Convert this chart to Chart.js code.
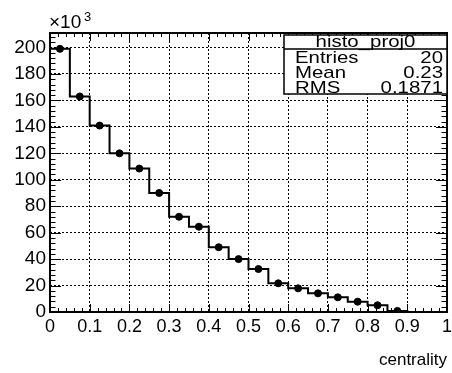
<!DOCTYPE html>
<html>
<head>
<meta charset="utf-8">
<script src="https://cdn.jsdelivr.net/npm/chart.js@4/dist/chart.umd.min.js"></script>
<style>
  html, body { margin: 0; padding: 0; background: #fff; }
  #wrap { width: 452px; height: 373px; }
</style>
</head>
<body>
<div id="wrap"><canvas id="chart-centrality" width="452" height="373"></canvas></div>
<script>
// bin low edges of histo_proj0 (width 0.05)
const bin_low = [0, 0.05, 0.1, 0.15, 0.2, 0.25, 0.3, 0.35, 0.4, 0.45,
  0.5, 0.55, 0.6, 0.65, 0.7, 0.75, 0.8, 0.85, 0.9, 0.95];
const bin_width = 0.05;

// bin contents, in units of 10^3
const bin_counts = [199, 163, 141, 120, 108.5, 90, 72, 64.5, 49, 40,
  32.5, 21.7, 17.9, 14.1, 11.1, 7.8, 5.1, 0.8, 0, 0];

// stats box
const stats_title = 'histo_proj0';
const stats_names = ['Entries', 'Mean', 'RMS'];
const stats_values = ['20', '0.23', '0.1871'];

const x_title = 'centrality';

const FONT = '"Liberation Sans", Arial, sans-serif';

// histogram outline: one point per bin edge, stepped
const step_points = bin_low.map((lo, i) => ({ x: lo, y: bin_counts[i] }));
step_points.push({ x: bin_low[bin_low.length - 1] + bin_width, y: bin_counts[bin_counts.length - 1] });

// markers at bin centres (empty bins not drawn)
const marker_points = bin_low
  .map((lo, i) => ({ x: lo + bin_width / 2, y: bin_counts[i] }))
  .filter(p => p.y > 0);

// ROOT-like frame, inner ticks, stats box and exponent label
const rootFrame = {
  id: 'rootFrame',
  afterDraw(chart) {
    const ctx = chart.ctx;
    const area = chart.chartArea;
    const xs = chart.scales.x;
    const ys = chart.scales.y;

    ctx.save();
    ctx.strokeStyle = '#000';

    // ticks (inside, on all four sides)
    ctx.lineWidth = 1;
    function drawTicks(scale, horizontal, majLen, minLen) {
      const vals = scale.ticks.map(t => t.value);
      const step = vals[1] - vals[0];
      const minor = step / 5;
      for (let k = 0; ; k++) {
        const v = scale.min + k * minor;
        if (v > scale.max + 1e-9) break;
        const isMajor = k % 5 === 0;
        const len = isMajor ? majLen : minLen;
        const p = Math.round(scale.getPixelForValue(v)) + 0.5;
        ctx.beginPath();
        if (horizontal) {
          ctx.moveTo(p, area.bottom); ctx.lineTo(p, area.bottom - len);
          ctx.moveTo(p, area.top); ctx.lineTo(p, area.top + len);
        } else {
          ctx.moveTo(area.left, p); ctx.lineTo(area.left + len, p);
          ctx.moveTo(area.right, p); ctx.lineTo(area.right - len, p);
        }
        ctx.stroke();
      }
    }
    drawTicks(xs, true, 8, 4);
    drawTicks(ys, false, 11, 5.5);

    // frame
    ctx.lineWidth = 2;
    ctx.strokeRect(area.left, area.top, area.right - area.left, area.bottom - area.top);

    // exponent label
    ctx.fillStyle = '#000';
    ctx.textBaseline = 'alphabetic';
    ctx.textAlign = 'left';
    ctx.font = '19px ' + FONT;
    ctx.fillText('\u00d710', 49, 28);
    ctx.font = '13px ' + FONT;
    ctx.fillText('3', 84, 21);

    // stats box
    const bx0 = 284, bx1 = 447, by0 = 35, by1 = 94, bsep = 49;
    ctx.fillStyle = '#fff';
    ctx.fillRect(bx0, by0, bx1 - bx0, by1 - by0);
    ctx.lineWidth = 1.5;
    ctx.strokeRect(bx0, by0, bx1 - bx0, by1 - by0);
    ctx.beginPath();
    ctx.moveTo(bx0, bsep); ctx.lineTo(bx1, bsep);
    ctx.stroke();

    ctx.fillStyle = '#000';
    ctx.font = '17px ' + FONT;
    function stretchedText(txt, x, y, align) {
      ctx.save();
      ctx.translate(x, y);
      ctx.scale(1.2, 1);
      ctx.textAlign = align;
      ctx.fillText(txt, 0, 0);
      ctx.restore();
    }
    stretchedText(stats_title, (bx0 + bx1) / 2, 47, 'center');
    const rows_y = [63, 78, 93];
    stats_names.forEach((name, i) => {
      stretchedText(name, 295, rows_y[i], 'left');
      stretchedText(stats_values[i], 443, rows_y[i], 'right');
    });

    ctx.restore();
  }
};

const ctx = document.getElementById('chart-centrality');
const chart = new Chart(ctx, {
  plugins: [rootFrame],
  type: 'line',
  data: {
    datasets: [
      {
        label: 'histogram',
        data: step_points,
        stepped: 'before',
        borderColor: '#000',
        borderWidth: 2,
        pointRadius: 0,
        fill: false
      },
      {
        label: 'bin contents',
        type: 'scatter',
        data: marker_points,
        backgroundColor: '#000',
        borderColor: '#000',
        pointRadius: 3.5,
        showLine: false
      }
    ]
  },
  options: {
    responsive: false,
    animation: false,
    layout: {
      padding: { top: 33, right: 2, left: 0, bottom: 0 }
    },
    plugins: {
      legend: { display: false },
      tooltip: { enabled: false }
    },
    scales: {
      x: {
        type: 'linear',
        min: 0,
        max: 1,
        afterFit: function (scale) {
          scale.height = 61;
          scale.paddingLeft = 0;
          scale.paddingRight = 0;
        },
        ticks: {
          stepSize: 0.1,
          autoSkip: false,
          maxRotation: 0,
          includeBounds: false,
          color: '#000',
          padding: 4,
          font: { family: FONT, size: 18 },
          callback: function (value) {
            return String(parseFloat(value.toFixed(1)));
          }
        },
        grid: {
          color: '#000',
          lineWidth: 1,
          drawTicks: false
        },
        border: { display: false, dash: [2, 2] },
        title: {
          display: true,
          text: x_title,
          align: 'end',
          color: '#000',
          font: { family: FONT, size: 17 },
          padding: { top: 0, bottom: 2 }
        }
      },
      y: {
        min: 0,
        max: 211,
        afterFit: function (scale) {
          scale.width = 50;
          scale.paddingTop = 0;
          scale.paddingBottom = 0;
        },
        ticks: {
          stepSize: 20,
          includeBounds: false,
          color: '#000',
          padding: 4,
          font: { family: FONT, size: 19 }
        },
        grid: {
          color: '#000',
          lineWidth: 1,
          drawTicks: false
        },
        border: { display: false, dash: [2, 2] }
      }
    }
  }
});
</script>
</body>
</html>
